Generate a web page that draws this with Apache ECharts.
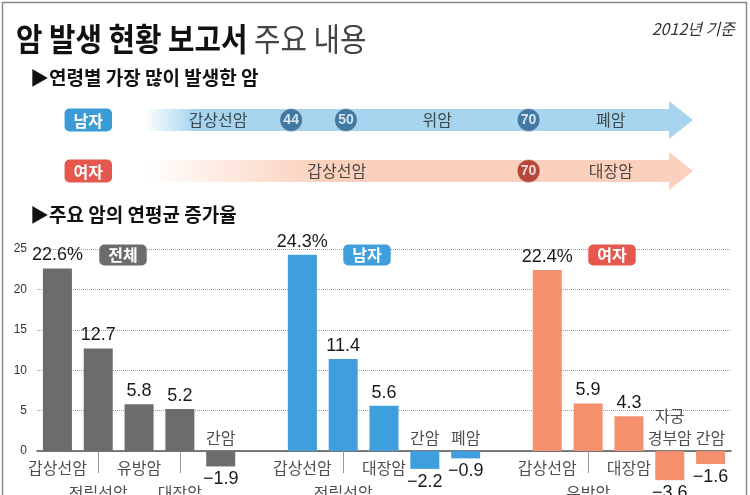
<!DOCTYPE html>
<html>
<head>
<meta charset="utf-8">
<script src="https://cdn.jsdelivr.net/npm/echarts@6/dist/echarts.min.js"></script>
<style>html,body{margin:0;padding:0;background:#fff}#c{width:750px;height:495px}</style>
</head>
<body>
<div id="c"></div>
<script>
// ---- data ----
const timelineRows = ['남자', '여자'];
const timelineSpan = [28, 88];
const maleBreaks = [44, 50, 70];
const maleCancers = ['갑상선암', '', '위암', '폐암'];
const femaleBreaks = [70];
const femaleCancers = ['갑상선암', '대장암'];

const totalNames = ['갑상선암', '전립선암', '유방암', '대장암', '간암'];
const totalValues = [22.6, 12.7, 5.8, 5.2, -1.9];
const maleNames = ['갑상선암', '전립선암', '대장암', '간암', '폐암'];
const maleValues = [24.3, 11.4, 5.6, -2.2, -0.9];
const femaleNames = ['갑상선암', '유방암', '대장암', '자궁\n경부암', '간암'];
const femaleValues = [22.4, 5.9, 4.3, -3.6, -1.6];
const yMin = -5, yMax = 25, yStep = 5;

// ---- build ----
const FONT = '"Noto Sans CJK KR", "Noto Sans", sans-serif';
const NUM = '"Liberation Sans", Arial, sans-serif';
const panels = [
  { names: totalNames, values: totalValues, color: '#6c6c6c' },
  { names: maleNames, values: maleValues, color: '#3f9fdc' },
  { names: femaleNames, values: femaleValues, color: '#f4906e' }
];
const SLOTS = panels.length * 6 - 1;
const categories = new Array(SLOTS).fill('');
const row2 = new Set();
const nameData = [];
const barSeries = panels.map((p, pi) => {
  const data = new Array(SLOTS).fill('-');
  p.values.forEach((v, j) => {
    const s = pi * 6 + j;
    categories[s] = p.names[j];
    data[s] = { value: v, label: { position: v < 0 ? 'bottom' : 'top' } };
    let dy;
    const lines = p.names[j].split('\n').length;
    if (v < 0) dy = -13 - (lines - 1) * 11;
    else if (j % 2 === 1) { dy = 42; row2.add(s); }
    else dy = 17;
    nameData.push({ value: [s, 0], name: p.names[j], label: { offset: [0, dy] } });
  });
  return {
    type: 'bar', xAxisIndex: 0, yAxisIndex: 0, data, barWidth: 29, barGap: '-100%',
    itemStyle: { color: p.color },
    label: {
      show: true, distance: 4, color: '#1a1a1a', fontSize: 18, fontFamily: NUM,
      formatter: (pr) => {
        const v = pr.value; const j = pr.dataIndex % 6;
        if (j === 0) return v.toFixed(1) + '%';
        return v < 0 ? '\u2212' + Math.abs(v).toFixed(1) : v.toFixed(1);
      }
    },
    z: 3
  };
});

// timeline
function segLabels(breaks, names, row) {
  const pts = [timelineSpan[0], ...breaks, timelineSpan[1]];
  const out = [];
  names.forEach((n, i) => { if (n) out.push({ value: [(pts[i] + pts[i + 1]) / 2, row], name: n }); });
  return out;
}
const tlLabels = segLabels(maleBreaks, maleCancers, 0).concat(segLabels(femaleBreaks, femaleCancers, 1));
const tlColors = [['rgba(166,212,239,0)', '#a7d4ef'], ['rgba(251,208,187,0)', '#fbd1bd']];
const tlStops = [0.09, 0.32];
const circleColors = ['#27638f', '#a8241a'];

const chart = echarts.init(document.getElementById('c'));
chart.setOption({
  animation: false,
  backgroundColor: '#fff',
  grid: [
    { left: 37, right: 19, top: 249, bottom: 3.5 },
    { left: 145, right: 57, top: 94.5, height: 102 }
  ],
  xAxis: [
    {
      gridIndex: 0, type: 'category', data: categories, boundaryGap: true,
      axisLine: { onZero: true, lineStyle: { color: '#555', width: 1.5 } },
      axisTick: { show: true, alignWithLabel: true, length: 22, interval: (i) => row2.has(i), lineStyle: { color: '#999', width: 1 } },
      axisLabel: { show: false }, splitLine: { show: false }
    },
    { gridIndex: 1, type: 'value', min: timelineSpan[0], max: timelineSpan[1], show: false }
  ],
  yAxis: [
    {
      gridIndex: 0, type: 'value', min: yMin, max: yMax, interval: yStep,
      axisLine: { show: false }, axisTick: { show: false },
      axisLabel: { color: '#333', fontSize: 12, fontFamily: NUM, margin: 10, formatter: (v) => (v < 0 ? '' : v) },
      splitLine: { show: true, showMinLine: false, lineStyle: { type: 'dotted', color: '#9a9a9a', width: 1 } }
    },
    {
      gridIndex: 1, type: 'category', data: timelineRows, inverse: true,
      axisLine: { show: false }, axisTick: { show: false }, splitLine: { show: false },
      axisLabel: {
        margin: 33,
        formatter: (v, i) => (i === 0 ? '{m|' + v + '}' : '{f|' + v + '}'),
        rich: {
          m: { backgroundColor: '#3b9bd7', color: '#fff', padding: [4, 9, 3, 9], borderRadius: 5, fontSize: 16, fontFamily: FONT, fontWeight: 'bold' },
          f: { backgroundColor: '#e6574d', color: '#fff', padding: [4, 9, 3, 9], borderRadius: 5, fontSize: 16, fontFamily: FONT, fontWeight: 'bold' }
        }
      }
    }
  ],
  series: [
    ...barSeries,
    {
      type: 'scatter', xAxisIndex: 0, yAxisIndex: 0, data: nameData, symbolSize: 1,
      itemStyle: { color: 'rgba(0,0,0,0)' }, silent: true, z: 4,
      label: { show: true, position: 'inside', formatter: '{b}', color: '#222', fontSize: 16, fontFamily: FONT, lineHeight: 22 }
    },
    {
      type: 'custom', xAxisIndex: 1, yAxisIndex: 1,
      data: timelineRows.map((r, i) => [timelineSpan[0], i, timelineSpan[1]]),
      renderItem: (params, api) => {
        const row = api.value(1);
        const a = api.coord([api.value(0), row]);
        const b = api.coord([api.value(2), row]);
        const bh = 11, hh = 19, hl = 24, y = a[1];
        const c = tlColors[row];
        return {
          type: 'polygon',
          shape: { points: [[a[0], y - bh], [b[0] - hl, y - bh], [b[0] - hl, y - hh], [b[0], y], [b[0] - hl, y + hh], [b[0] - hl, y + bh], [a[0], y + bh]] },
          style: { fill: new echarts.graphic.LinearGradient(0, 0, 1, 0, [{ offset: 0, color: c[0] }, { offset: tlStops[row], color: c[1] }, { offset: 1, color: c[1] }]) }
        };
      },
      z: 1
    },
    {
      type: 'scatter', xAxisIndex: 1, yAxisIndex: 1, symbolSize: 1, silent: true,
      itemStyle: { color: 'rgba(0,0,0,0)' }, data: tlLabels, z: 3,
      label: { show: true, position: 'inside', formatter: '{b}', color: '#222', fontSize: 16, fontFamily: FONT }
    },
    {
      type: 'scatter', xAxisIndex: 1, yAxisIndex: 1, symbolSize: 23, silent: true, z: 4,
      data: maleBreaks.map((a) => [a, 0]).concat(femaleBreaks.map((a) => [a, 1])),
      itemStyle: { color: (p) => circleColors[p.value[1]], borderColor: 'rgba(255,255,255,0.6)', borderWidth: 1 },
      label: { show: true, position: 'inside', formatter: (p) => p.value[0], color: '#fff', fontSize: 14, fontWeight: 'bold', fontFamily: NUM }
    }
  ],
  graphic: [
    { type: 'rect', shape: { x: 2.5, y: 2.5, width: 744, height: 520 }, style: { fill: 'none', stroke: '#8a8a8a', lineWidth: 1.5 }, silent: true },
    {
      type: 'text', x: 16, y: 39, scaleX: 0.9,
      style: {
        text: '{b|암 발생 현황 보고서}{n| 주요 내용}', textVerticalAlign: 'middle',
        rich: {
          b: { font: 'bold 32px ' + FONT, fill: '#111' },
          n: { font: '32px ' + FONT, fill: '#444' }
        }
      }
    },
    { type: 'text', x: 735, y: 29, style: { text: '2012년 기준', textAlign: 'right', textVerticalAlign: 'middle', font: 'italic 16px ' + FONT, fill: '#333' } },
    { type: 'text', x: 30, y: 78, style: { text: '▶연령별 가장 많이 발생한 암', textVerticalAlign: 'middle', font: 'bold 19px ' + FONT, fill: '#111' } },
    { type: 'text', x: 30, y: 215, style: { text: '▶주요 암의 연평균 증가율', textVerticalAlign: 'middle', font: 'bold 19px ' + FONT, fill: '#111' } },
    { type: 'text', x: 123, y: 255, z: 10, style: { text: '전체', textAlign: 'center', textVerticalAlign: 'middle', font: 'bold 16px ' + FONT, fill: '#fff', backgroundColor: '#6c6c6c', padding: [3, 9, 2, 9], borderRadius: 5 } },
    { type: 'text', x: 367, y: 255, z: 10, style: { text: '남자', textAlign: 'center', textVerticalAlign: 'middle', font: 'bold 16px ' + FONT, fill: '#fff', backgroundColor: '#3f9fdc', padding: [3, 9, 2, 9], borderRadius: 5 } },
    { type: 'text', x: 612, y: 255, z: 10, style: { text: '여자', textAlign: 'center', textVerticalAlign: 'middle', font: 'bold 16px ' + FONT, fill: '#fff', backgroundColor: '#e6574d', padding: [3, 9, 2, 9], borderRadius: 5 } }
  ]
});
</script>
</body>
</html>
